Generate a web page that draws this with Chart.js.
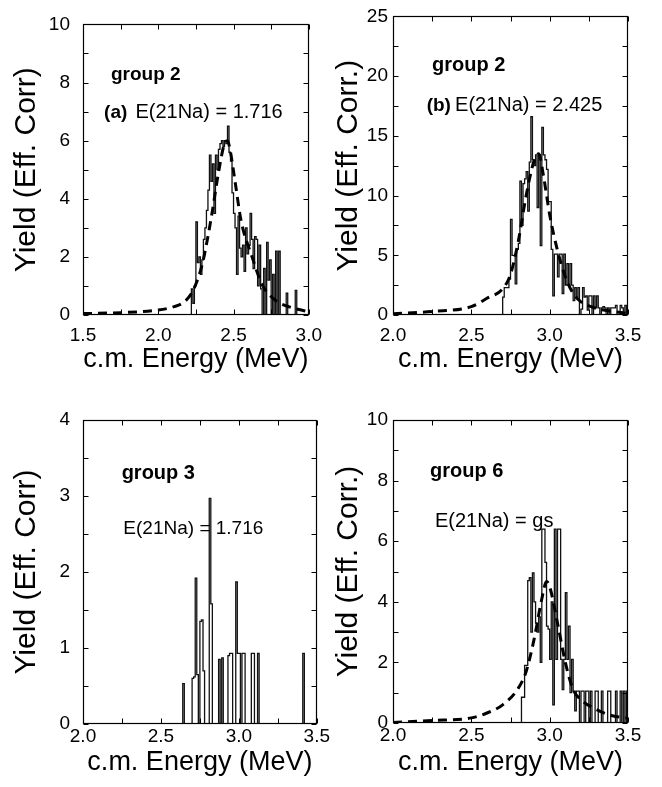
<!DOCTYPE html>
<html>
<head>
<meta charset="utf-8">
<script src="https://cdn.jsdelivr.net/npm/chart.js@4.4.0/dist/chart.umd.min.js"></script>
<style>
  html, body { margin: 0; padding: 0; background: #fff; }
  body { width: 662px; height: 787px; position: relative; overflow: hidden; }
  canvas { position: absolute; }
</style>
</head>
<body>
<canvas id="panelA"></canvas>
<canvas id="panelB"></canvas>
<canvas id="panelC"></canvas>
<canvas id="panelD"></canvas>
<script>
// histogram bin width (MeV), energies below are bin left edges
const binWidth = 0.01;

// (a) group 2, E(21Na) = 1.716
const energyA = [2.22, 2.23, 2.24, 2.25, 2.26, 2.27, 2.28, 2.29, 2.30, 2.31, 2.32, 2.33, 2.34, 2.35, 2.36, 2.37,
  2.38, 2.39, 2.40, 2.41, 2.42, 2.43, 2.44, 2.45, 2.46, 2.47, 2.48, 2.49, 2.50, 2.51, 2.52, 2.53, 2.54, 2.55,
  2.56, 2.57, 2.58, 2.59, 2.60, 2.61, 2.62, 2.63, 2.64, 2.65, 2.66, 2.67, 2.68, 2.70, 2.72, 2.73, 2.74, 2.76,
  2.78, 2.80, 2.85, 2.91];
const yieldA = [0.9, 0.4, 1.0, 3.2, 1.8, 2.0, 1.4, 1.9, 2.6, 3.0, 3.6, 4.3, 5.5, 4.6, 5.2, 3.5,
  5.5, 5.0, 5.7, 5.9, 6.0, 5.8, 6.0, 5.9, 6.5, 5.6, 5.3, 4.2, 3.5, 3.0, 1.4, 3.4, 2.3, 2.0,
  2.4, 1.5, 3.0, 2.1, 2.4, 3.5, 2.6, 1.6, 2.7, 2.6, 1.0, 2.4, 0.9, 1.6, 2.5, 1.2, 1.9, 1.4,
  2.2, 2.2, 0.75, 0.85];
const fitEnergyA = [1.5, 1.75, 2.0, 2.1, 2.17, 2.23, 2.29, 2.33, 2.36, 2.40, 2.44, 2.46, 2.48, 2.51, 2.55, 2.62, 2.69, 2.78, 2.87, 3.0];
const fitYieldA = [0.05, 0.08, 0.17, 0.28, 0.44, 0.83, 1.7, 2.7, 3.6, 4.9, 5.9, 6.0, 5.6, 4.6, 3.25, 2.05, 1.05, 0.5, 0.28, 0.11];

// (b) group 2, E(21Na) = 2.425
const energyB = [2.70, 2.71, 2.72, 2.73, 2.74, 2.75, 2.76, 2.77, 2.78, 2.79, 2.80, 2.81, 2.82, 2.83, 2.84, 2.85,
  2.86, 2.87, 2.88, 2.89, 2.90, 2.91, 2.92, 2.93, 2.94, 2.95, 2.96, 2.97, 2.98, 2.99, 3.00, 3.01, 3.02, 3.03,
  3.04, 3.05, 3.06, 3.07, 3.08, 3.09, 3.10, 3.11, 3.12, 3.13, 3.14, 3.15, 3.16, 3.17, 3.18, 3.20, 3.21, 3.22,
  3.23, 3.24, 3.25, 3.26, 3.28, 3.29, 3.30, 3.31, 3.33, 3.34, 3.35, 3.37, 3.39, 3.40, 3.41, 3.42, 3.45, 3.46, 3.48];
const yieldB = [1.5, 2.3, 2.3, 2.3, 3.0, 8.0, 5.0, 5.0, 2.6, 5.5, 6.0, 11.2, 7.5, 11.0, 11.4, 12.0,
  8.7, 12.8, 16.6, 13.0, 12.5, 13.4, 9.0, 13.4, 5.8, 15.7, 13.4, 13.0, 12.2, 9.5, 9.5, 5.5, 1.6, 5.1,
  5.1, 3.2, 5.1, 5.1, 1.8, 5.1, 2.5, 4.3, 2.5, 4.3, 2.5, 1.2, 2.3, 1.5, 2.3, 0.5, 2.3, 1.5,
  1.6, 0.4, 1.6, 1.6, 1.6, 0.6, 1.6, 0.6, 0.6, 0.7, 0.6, 0.6, 0.6, 0.6, 0.6, 0.8, 0.8, 0.6, 0.8];
const fitEnergyB = [2.0, 2.25, 2.5, 2.6, 2.7, 2.75, 2.8, 2.85, 2.9, 2.93, 2.96, 3.0, 3.05, 3.1, 3.15, 3.2, 3.3, 3.4, 3.5];
const fitYieldB = [0.1, 0.3, 0.7, 1.4, 2.2, 3.4, 6.2, 10.0, 12.9, 13.5, 11.7, 8.4, 5.4, 3.2, 1.8, 1.1, 0.55, 0.3, 0.15];

// (c) group 3, E(21Na) = 1.716 (no fit)
const energyC = [2.64, 2.70, 2.71, 2.72, 2.73, 2.75, 2.76, 2.77, 2.81, 2.82, 2.87, 2.89, 2.93, 2.94, 2.95,
  2.98, 2.99, 3.00, 3.02, 3.03, 3.08, 3.09, 3.12, 3.41];
const yieldC = [0.53, 0.60, 0.62, 1.92, 0.65, 1.35, 1.37, 0.70, 2.97, 1.58, 0.85, 0.87, 0.90, 0.93, 0.93,
  1.87, 0.93, 0.93, 0.93, 0.93, 0.93, 0.93, 0.93, 0.93];

// (d) group 6, E(21Na) = gs
const energyD = [2.82, 2.83, 2.84, 2.85, 2.86, 2.87, 2.88, 2.89, 2.90, 2.91, 2.92, 2.93, 2.94, 2.95, 2.96, 2.97,
  2.98, 2.99, 3.00, 3.01, 3.02, 3.03, 3.04, 3.05, 3.06, 3.07, 3.08, 3.09, 3.10, 3.11, 3.12, 3.13, 3.14, 3.15,
  3.16, 3.17, 3.18, 3.20, 3.21, 3.23, 3.24, 3.26, 3.29, 3.30, 3.33, 3.37, 3.38, 3.42, 3.45, 3.47, 3.49];
const yieldD = [0.85, 0.85, 1.9, 1.9, 4.7, 4.8, 3.0, 4.95, 4.0, 3.3, 3.0, 3.5, 2.0, 6.4, 6.4, 5.3,
  3.2, 3.1, 2.1, 4.0, 0.6, 6.4, 2.1, 6.4, 6.4, 2.1, 1.1, 2.1, 4.3, 2.1, 3.2, 1.0, 2.1, 1.05,
  0.4, 1.05, 1.05, 1.05, 1.05, 1.05, 1.05, 1.05, 1.05, 1.05, 1.05, 1.05, 1.05, 1.05, 1.05, 1.05, 1.05];
const fitEnergyD = [2.0, 2.25, 2.5, 2.6, 2.7, 2.8, 2.85, 2.9, 2.95, 2.98, 3.0, 3.05, 3.1, 3.15, 3.2, 3.3, 3.4, 3.5];
const fitYieldD = [0.02, 0.08, 0.17, 0.33, 0.6, 1.15, 1.7, 2.75, 4.1, 4.67, 4.5, 3.3, 2.0, 1.1, 0.77, 0.44, 0.24, 0.16];

const FONT = "'Liberation Sans', Arial, Helvetica, sans-serif";
Chart.defaults.font.family = FONT;
Chart.defaults.color = '#000';

// turn bins into a step outline that drops to zero in empty bins
function histPoints(energies, counts) {
  const pts = [];
  let prevEnd = null;
  energies.forEach((e, i) => {
    if (prevEnd === null || Math.abs(e - prevEnd) > 1e-6) {
      if (prevEnd !== null) pts.push({x: prevEnd, y: 0});
      pts.push({x: e, y: 0});
    }
    pts.push({x: e, y: counts[i]});
    prevEnd = e + binWidth;
  });
  pts.push({x: prevEnd, y: 0});
  return pts;
}

function curvePoints(xs, ys) {
  return xs.map((x, i) => ({x: x, y: ys[i]}));
}

// box, inside tick marks on all four sides, and the text notes
const framePlugin = {
  id: 'frame',
  afterDatasetsDraw(chart, args, opts) {
    const {ctx, chartArea: a, scales} = chart;
    const L = Math.round(a.left) + 0.5, R = Math.round(a.right) - 0.5;
    const T = Math.round(a.top) + 0.5, B = Math.round(a.bottom) - 0.5;
    ctx.save();
    ctx.strokeStyle = '#000';
    ctx.lineWidth = 1;
    ctx.beginPath();
    scales.x.ticks.forEach(t => {
      const px = Math.round(scales.x.getPixelForValue(t.value)) + 0.5;
      ctx.moveTo(px, B); ctx.lineTo(px, B - 5);
      ctx.moveTo(px, T); ctx.lineTo(px, T + 5);
    });
    scales.y.ticks.forEach(t => {
      const py = Math.round(scales.y.getPixelForValue(t.value)) + 0.5;
      ctx.moveTo(L, py); ctx.lineTo(L + 5, py);
      ctx.moveTo(R, py); ctx.lineTo(R - 5, py);
    });
    ctx.stroke();
    ctx.lineWidth = 1.2;
    ctx.strokeRect(L, T, R - L, B - T);

    ctx.fillStyle = '#000';
    ctx.textBaseline = 'alphabetic';
    ctx.textAlign = 'left';
    (opts.notes || []).forEach(n => {
      ctx.font = (n.bold ? 'bold ' : '') + n.size + 'px ' + FONT;
      ctx.fillText(n.text, scales.x.getPixelForValue(n.x), scales.y.getPixelForValue(n.y));
    });
    ctx.restore();
  }
};

function makePanel(id, p) {
  const cv = document.getElementById(id);
  cv.width = p.w; cv.height = p.h;
  cv.style.left = p.left + 'px'; cv.style.top = p.top + 'px';

  const datasets = [];
  if (p.fitX) {
    datasets.push({
      data: curvePoints(p.fitX, p.fitY),
      borderColor: '#000', borderWidth: 3, borderDash: [9, 6],
      pointRadius: 0, cubicInterpolationMode: 'monotone', fill: false
    });
  }
  datasets.push({
    data: histPoints(p.energy, p.counts),
    borderColor: '#111', borderWidth: 1.3, stepped: true,
    pointRadius: 0, fill: false
  });

  return new Chart(cv, {
    type: 'line',
    data: {datasets: datasets},
    options: {
      responsive: false,
      animation: false,
      layout: {padding: {left: 0, right: p.padRight, top: p.padTop, bottom: 0}},
      plugins: {legend: {display: false}, tooltip: {enabled: false}, frame: {notes: p.notes}},
      scales: {
        x: {
          type: 'linear', min: p.xMin, max: p.xMax,
          grid: {display: false, drawTicks: false}, border: {display: false},
          ticks: {
            stepSize: 0.25, autoSkip: false, maxRotation: 0, padding: p.xTickPad,
            font: {size: 19}, color: '#000',
            callback: v => Math.abs(v * 2 - Math.round(v * 2)) < 1e-6 ? v.toFixed(1) : ''
          },
          title: {display: true, text: 'c.m. Energy (MeV)', font: {size: 27}, color: '#000',
            padding: {top: 0, bottom: p.xTitlePad}},
          afterFit: s => { s.height = p.xAxisH; }
        },
        y: {
          min: 0, max: p.yMax,
          grid: {display: false, drawTicks: false}, border: {display: false},
          ticks: {
            stepSize: p.yStep, autoSkip: false, padding: p.yTickPad,
            font: {size: 19}, color: '#000',
            callback: v => (Math.abs(v % p.yLabelEvery) < 1e-6 ? String(v) : '')
          },
          title: {display: true, text: p.yTitle, font: {size: 30}, color: '#000',
            padding: {top: p.yTitlePad, bottom: 0}},
          afterFit: s => { s.width = p.yAxisW; }
        }
      }
    },
    plugins: [framePlugin]
  });
}

makePanel('panelA', {
  left: 0, top: 0, w: 331, h: 385, padRight: 14, padTop: 13, yAxisW: 83, xAxisH: 70,
  xTickPad: 9, yTickPad: 13, xTitlePad: 9, yTitlePad: 9,
  xMin: 1.5, xMax: 3.0, yMax: 10, yStep: 1, yLabelEvery: 2, yTitle: 'Yield (Eff. Corr)',
  energy: energyA, counts: yieldA, fitX: fitEnergyA, fitY: fitYieldA,
  notes: [
    {text: 'group 2', x: 1.686, y: 8.08, bold: true, size: 19},
    {text: '(a)', x: 1.64, y: 6.79, bold: true, size: 19},
    {text: 'E(21Na) = 1.716', x: 1.848, y: 6.79, size: 20}
  ]
});

makePanel('panelB', {
  left: 331, top: 0, w: 331, h: 385, padRight: 34, padTop: 13, yAxisW: 62, xAxisH: 70,
  xTickPad: 9, yTickPad: 5, xTitlePad: 9, yTitlePad: 0,
  xMin: 2.0, xMax: 3.5, yMax: 25, yStep: 2.5, yLabelEvery: 5, yTitle: 'Yield (Eff. Corr.)',
  energy: energyB, counts: yieldB, fitX: fitEnergyB, fitY: fitYieldB,
  notes: [
    {text: 'group 2', x: 2.249, y: 20.4, bold: true, size: 20},
    {text: '(b)', x: 2.215, y: 17.1, bold: true, size: 19},
    {text: 'E(21Na) = 2.425', x: 2.396, y: 17.1, size: 20}
  ]
});

makePanel('panelC', {
  left: 0, top: 390, w: 331, h: 397, padRight: 14, padTop: 30, yAxisW: 83, xAxisH: 63,
  xTickPad: 1, yTickPad: 13, xTitlePad: 8, yTitlePad: 9,
  xMin: 2.0, xMax: 3.5, yMax: 4, yStep: 0.5, yLabelEvery: 1, yTitle: 'Yield (Eff. Corr)',
  energy: energyC, counts: yieldC,
  notes: [
    {text: 'group 3', x: 2.248, y: 3.23, bold: true, size: 20},
    {text: 'E(21Na) = 1.716', x: 2.259, y: 2.5, size: 19}
  ]
});

makePanel('panelD', {
  left: 331, top: 390, w: 331, h: 397, padRight: 34, padTop: 30, yAxisW: 62, xAxisH: 64,
  xTickPad: 1, yTickPad: 5, xTitlePad: 8, yTitlePad: 0,
  xMin: 2.0, xMax: 3.5, yMax: 10, yStep: 1, yLabelEvery: 2, yTitle: 'Yield (Eff. Corr.)',
  energy: energyD, counts: yieldD, fitX: fitEnergyD, fitY: fitYieldD,
  notes: [
    {text: 'group 6', x: 2.236, y: 8.13, bold: true, size: 20},
    {text: 'E(21Na) = gs', x: 2.268, y: 6.48, size: 20}
  ]
});
</script>
</body>
</html>
